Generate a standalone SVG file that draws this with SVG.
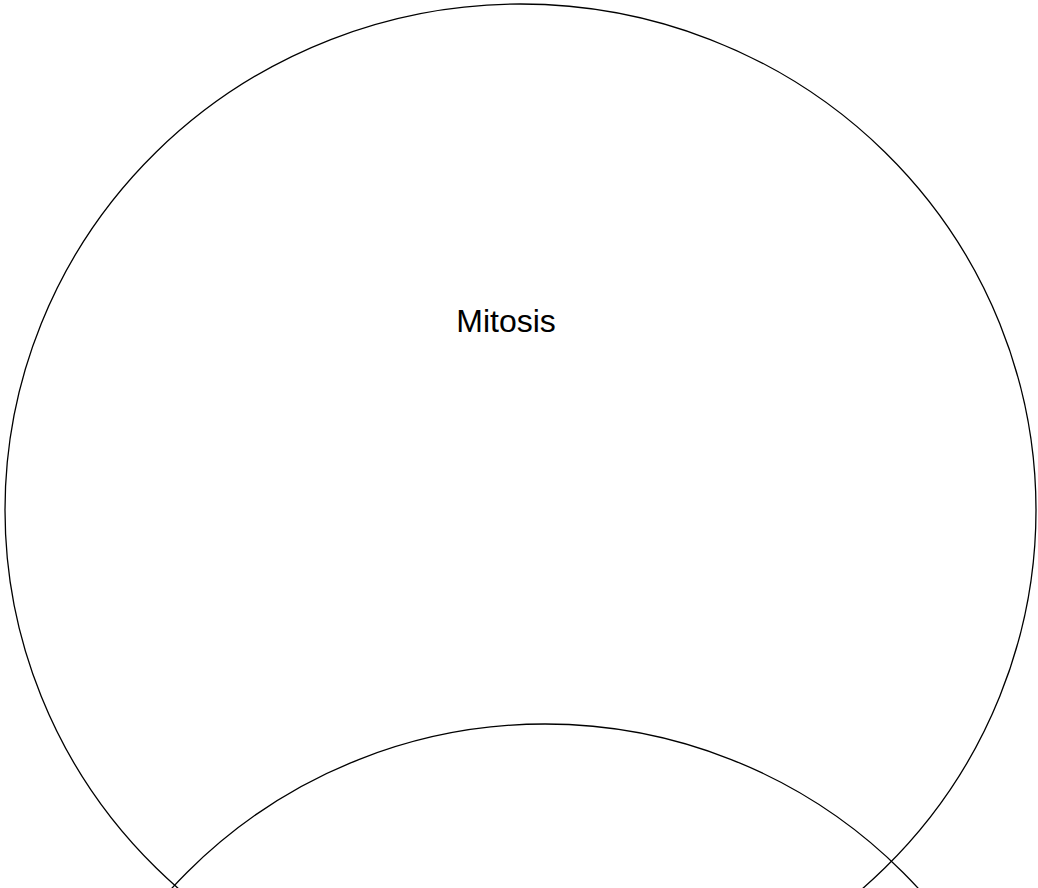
<svg xmlns="http://www.w3.org/2000/svg" width="1038" height="888" viewBox="0 0 1038 888">
<style>
.shape{fill:none;stroke:#000;stroke-width:1.3}
.lbl{font-family:"Liberation Sans",Arial,sans-serif;font-size:32px;fill:#000;text-anchor:middle}
</style>
<rect width="1038" height="888" fill="#fff"/>
<g id="mitosis">
<ellipse class="shape" cx="520.5" cy="510" rx="515.5" ry="506"/>
<text class="lbl" x="506" y="332">Mitosis</text>
</g>
<g id="circle2">
<circle class="shape" cx="545" cy="1230" r="506"/>
</g>
</svg>
